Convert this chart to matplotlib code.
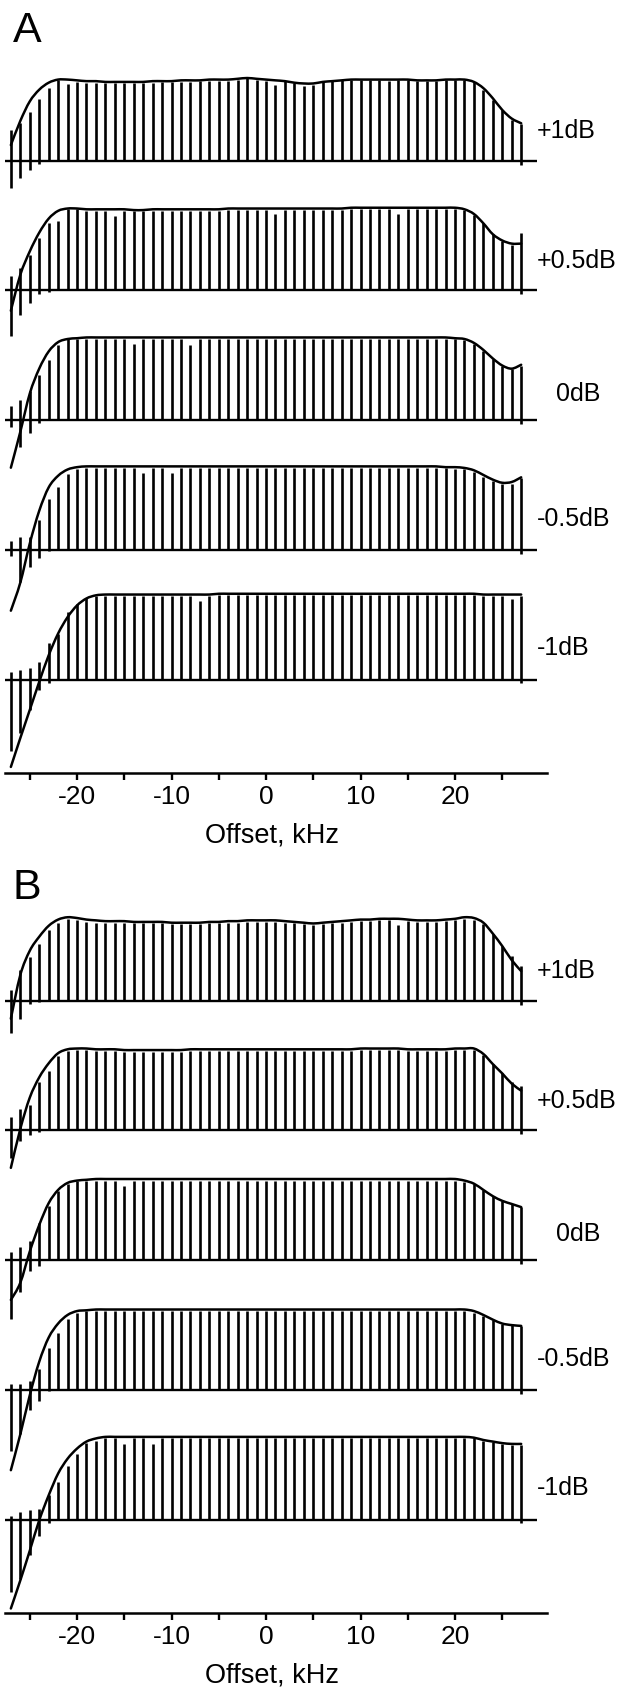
import numpy as np
import matplotlib
matplotlib.use("Agg")
import matplotlib.pyplot as plt
from matplotlib.path import Path
from matplotlib.patches import PathPatch

plt.rcParams['font.family'] = ['Liberation Sans', 'DejaVu Sans']
plt.rcParams['axes.unicode_minus'] = False

# ---------------- data ----------------
offsets_khz = list(range(-27, 28))          # stick positions, kHz
trace_labels = ['+1dB', '+0.5dB', '0dB', '-0.5dB', '-1dB']
tick_values = [-25, -20, -15, -10, -5, 0, 5, 10, 15, 20, 25]
tick_labels = ['', '-20', '', '-10', '', '0', '', '10', '', '20', '']
panel_names = ['A', 'B']
x_label = 'Offset, kHz'

# Panel A envelopes (x = -27..27)
A_env_p1 = [0.20, 0.51, 0.76, 0.91, 1.00, 1.04, 1.04, 1.03, 1.02, 1.02, 1.01,
            1.01, 1.01, 1.01, 1.01, 1.02, 1.02, 1.02, 1.03, 1.03, 1.03, 1.04,
            1.04, 1.04, 1.05, 1.06, 1.05, 1.04, 1.03, 1.02, 1.00, 0.99, 0.99,
            1.01, 1.02, 1.03, 1.04, 1.04, 1.04, 1.04, 1.04, 1.04, 1.04, 1.03,
            1.03, 1.03, 1.04, 1.04, 1.04, 1.01, 0.93, 0.80, 0.65, 0.54, 0.48]
A_env_p05 = [-0.26, 0.20, 0.50, 0.74, 0.92, 1.02, 1.05, 1.05, 1.04, 1.04, 1.04,
             1.04, 1.04, 1.03, 1.03, 1.04, 1.04, 1.04, 1.04, 1.04, 1.04, 1.04,
             1.04, 1.05, 1.05, 1.05, 1.05, 1.05, 1.05, 1.05, 1.05, 1.05, 1.05,
             1.05, 1.05, 1.05, 1.06, 1.06, 1.06, 1.06, 1.06, 1.06, 1.06, 1.06,
             1.06, 1.06, 1.06, 1.06, 1.04, 0.98, 0.86, 0.72, 0.64, 0.60, 0.60]
A_env_0 = [-0.61, -0.15, 0.34, 0.66, 0.88, 1.00, 1.04, 1.05, 1.06, 1.06, 1.06,
           1.06, 1.06, 1.06, 1.06, 1.06, 1.06, 1.06, 1.06, 1.06, 1.06, 1.06,
           1.06, 1.06, 1.06, 1.06, 1.06, 1.06, 1.06, 1.06, 1.06, 1.06, 1.06,
           1.06, 1.06, 1.06, 1.06, 1.06, 1.06, 1.06, 1.06, 1.06, 1.06, 1.06,
           1.06, 1.06, 1.06, 1.05, 1.04, 0.99, 0.90, 0.79, 0.70, 0.66, 0.71]
A_env_m05 = [-0.78, -0.42, 0.08, 0.50, 0.80, 0.95, 1.03, 1.06, 1.07, 1.07, 1.07,
             1.07, 1.07, 1.07, 1.07, 1.07, 1.07, 1.07, 1.07, 1.07, 1.07, 1.07,
             1.07, 1.07, 1.07, 1.07, 1.07, 1.07, 1.07, 1.07, 1.07, 1.07, 1.07,
             1.07, 1.07, 1.07, 1.07, 1.07, 1.07, 1.07, 1.07, 1.07, 1.07, 1.07,
             1.07, 1.07, 1.06, 1.06, 1.05, 1.02, 0.96, 0.90, 0.86, 0.87, 0.93]
A_env_m1 = [-1.12, -0.75, -0.39, -0.03, 0.31, 0.59, 0.80, 0.95, 1.04, 1.08, 1.09,
            1.09, 1.09, 1.09, 1.09, 1.09, 1.09, 1.09, 1.09, 1.09, 1.09, 1.09,
            1.10, 1.10, 1.10, 1.10, 1.10, 1.10, 1.10, 1.10, 1.10, 1.10, 1.10,
            1.10, 1.10, 1.10, 1.10, 1.10, 1.10, 1.10, 1.10, 1.10, 1.10, 1.10,
            1.10, 1.10, 1.10, 1.10, 1.10, 1.10, 1.09, 1.09, 1.09, 1.09, 1.09]

# Panel A stick tops
A_stk_p1 = [0.39, 0.48, 0.63, 0.79, 0.93, 1.03, 0.98, 1.01, 1.00, 1.00, 1.00,
            1.00, 1.00, 1.00, 1.00, 1.00, 1.01, 1.01, 1.01, 1.01, 1.02, 1.02,
            1.02, 1.02, 1.03, 1.06, 1.04, 1.02, 0.97, 1.02, 1.00, 0.96, 0.97,
            1.01, 1.02, 1.03, 1.04, 1.04, 1.04, 1.04, 1.02, 1.04, 1.04, 1.02,
            1.02, 1.02, 1.03, 1.04, 1.04, 1.01, 0.91, 0.78, 0.65, 0.52, 0.47]
A_stk_p05 = [0.19, 0.29, 0.45, 0.67, 0.86, 0.89, 1.04, 1.04, 1.02, 1.02, 1.02,
             0.96, 1.02, 1.02, 1.02, 1.02, 1.02, 1.02, 1.02, 1.02, 1.02, 1.02,
             1.02, 1.03, 1.03, 1.03, 1.03, 1.03, 0.98, 1.03, 1.03, 1.03, 1.03,
             1.03, 1.03, 1.03, 1.04, 1.04, 1.04, 1.04, 1.04, 0.98, 1.04, 1.04,
             1.04, 1.04, 1.04, 1.04, 1.03, 0.97, 0.86, 0.72, 0.63, 0.58, 0.73]
A_stk_0 = [0.18, 0.26, 0.37, 0.58, 0.77, 0.96, 1.04, 1.04, 1.04, 1.04, 1.04,
           1.04, 1.04, 0.97, 1.04, 1.04, 1.04, 1.04, 1.04, 0.96, 1.04, 1.04,
           1.04, 1.04, 1.04, 1.04, 1.04, 1.04, 1.04, 1.04, 1.04, 1.04, 1.04,
           1.04, 1.04, 1.04, 1.04, 1.04, 1.04, 1.04, 1.04, 1.04, 1.04, 1.04,
           1.04, 1.04, 1.04, 1.04, 1.03, 0.98, 0.88, 0.78, 0.69, 0.65, 0.70]
A_stk_m05 = [0.11, 0.16, 0.17, 0.38, 0.65, 0.80, 0.97, 1.04, 1.05, 1.05, 1.05,
             1.05, 1.05, 1.05, 0.99, 1.05, 1.05, 0.99, 1.05, 1.05, 1.05, 1.05,
             1.05, 1.05, 1.05, 1.05, 1.05, 1.05, 1.05, 1.05, 1.05, 1.05, 1.05,
             1.05, 1.05, 1.05, 1.05, 1.05, 1.05, 1.05, 1.05, 1.05, 1.05, 1.05,
             1.05, 1.05, 1.05, 1.04, 1.04, 1.00, 0.94, 0.88, 0.85, 0.84, 0.92]
A_stk_m1 = [0.10, 0.12, 0.15, 0.23, 0.47, 0.59, 0.86, 0.97, 1.05, 1.07, 1.07,
            1.07, 1.07, 1.07, 1.07, 1.07, 1.07, 1.07, 1.07, 1.07, 1.01, 1.07,
            1.08, 1.08, 1.08, 1.08, 1.08, 1.08, 1.08, 1.08, 1.08, 1.08, 1.08,
            1.08, 1.08, 1.08, 1.08, 1.08, 1.08, 1.08, 1.08, 1.08, 1.08, 1.08,
            1.08, 1.08, 1.08, 1.08, 1.08, 1.08, 1.07, 1.07, 1.07, 1.03, 1.07]

# Panel B envelopes
B_env_p1 = [-0.23, 0.33, 0.64, 0.82, 0.96, 1.04, 1.07, 1.06, 1.04, 1.03, 1.02,
            1.02, 1.02, 1.01, 1.01, 1.01, 1.01, 1.00, 1.00, 1.00, 1.00, 1.01,
            1.01, 1.02, 1.02, 1.03, 1.03, 1.03, 1.03, 1.02, 1.01, 1.00, 0.99,
            1.00, 1.01, 1.02, 1.03, 1.04, 1.04, 1.05, 1.05, 1.05, 1.04, 1.03,
            1.03, 1.03, 1.04, 1.05, 1.07, 1.06, 1.00, 0.86, 0.70, 0.52, 0.38]
B_env_p05 = [-0.48, 0.02, 0.42, 0.68, 0.86, 0.99, 1.04, 1.05, 1.05, 1.04, 1.04,
             1.04, 1.03, 1.03, 1.03, 1.03, 1.03, 1.03, 1.03, 1.04, 1.04, 1.04,
             1.04, 1.04, 1.04, 1.04, 1.04, 1.04, 1.04, 1.04, 1.04, 1.04, 1.04,
             1.04, 1.04, 1.04, 1.04, 1.05, 1.05, 1.05, 1.05, 1.05, 1.04, 1.04,
             1.04, 1.04, 1.04, 1.05, 1.05, 1.05, 0.98, 0.85, 0.73, 0.60, 0.51]
B_env_0 = [-0.51, -0.29, 0.11, 0.45, 0.73, 0.90, 0.99, 1.02, 1.03, 1.04, 1.04,
           1.04, 1.04, 1.04, 1.04, 1.04, 1.04, 1.04, 1.04, 1.04, 1.04, 1.04,
           1.04, 1.04, 1.04, 1.04, 1.04, 1.04, 1.04, 1.04, 1.04, 1.04, 1.04,
           1.04, 1.04, 1.04, 1.04, 1.04, 1.04, 1.04, 1.04, 1.04, 1.04, 1.04,
           1.04, 1.04, 1.04, 1.04, 1.02, 0.98, 0.90, 0.82, 0.76, 0.72, 0.68]
B_env_m05 = [-1.03, -0.57, -0.07, 0.36, 0.67, 0.85, 0.96, 1.01, 1.02, 1.03, 1.03,
             1.03, 1.03, 1.03, 1.03, 1.03, 1.03, 1.03, 1.03, 1.03, 1.03, 1.03,
             1.03, 1.03, 1.03, 1.03, 1.03, 1.03, 1.03, 1.03, 1.03, 1.03, 1.03,
             1.03, 1.03, 1.03, 1.03, 1.03, 1.03, 1.03, 1.03, 1.03, 1.03, 1.03,
             1.03, 1.03, 1.03, 1.03, 1.03, 1.01, 0.96, 0.90, 0.85, 0.83, 0.82]
B_env_m1 = [-1.14, -0.78, -0.40, -0.01, 0.31, 0.59, 0.78, 0.91, 1.00, 1.04, 1.06,
            1.06, 1.06, 1.06, 1.06, 1.06, 1.06, 1.06, 1.06, 1.06, 1.06, 1.06,
            1.06, 1.06, 1.06, 1.06, 1.06, 1.06, 1.06, 1.06, 1.06, 1.06, 1.06,
            1.06, 1.06, 1.06, 1.06, 1.06, 1.06, 1.06, 1.06, 1.06, 1.06, 1.06,
            1.06, 1.06, 1.06, 1.06, 1.06, 1.05, 1.02, 1.00, 0.98, 0.97, 0.97]

# Panel B stick tops
B_stk_p1 = [0.14, 0.39, 0.56, 0.73, 0.91, 1.00, 1.05, 1.03, 1.01, 1.00, 0.99,
            0.99, 1.00, 0.99, 0.99, 0.99, 0.99, 0.98, 0.98, 0.98, 0.98, 0.99,
            0.99, 1.00, 1.00, 1.01, 1.01, 1.01, 1.01, 1.00, 0.99, 0.98, 0.97,
            0.98, 0.99, 1.00, 1.01, 1.02, 1.02, 1.03, 1.03, 0.97, 1.02, 1.01,
            1.01, 1.01, 1.02, 1.03, 1.05, 1.04, 0.98, 0.85, 0.70, 0.57, 0.45]
B_stk_p05 = [0.17, 0.27, 0.33, 0.62, 0.76, 0.96, 1.02, 1.03, 1.03, 1.02, 1.02,
             1.02, 1.01, 1.01, 1.01, 1.01, 1.01, 1.01, 1.01, 1.02, 1.02, 1.02,
             1.02, 1.02, 1.02, 1.02, 1.02, 1.02, 1.02, 1.02, 1.02, 1.02, 1.02,
             1.02, 1.02, 1.02, 1.02, 1.03, 1.03, 1.03, 1.03, 1.03, 1.02, 1.02,
             1.02, 1.02, 1.02, 1.03, 1.03, 1.03, 0.97, 0.85, 0.73, 0.62, 0.57]
B_stk_0 = [0.11, 0.17, 0.25, 0.48, 0.70, 0.88, 0.98, 1.01, 1.02, 1.02, 1.02,
           1.02, 0.95, 1.02, 1.02, 1.02, 1.02, 1.02, 1.02, 1.02, 1.02, 1.02,
           1.02, 1.02, 1.02, 1.02, 1.02, 1.02, 1.02, 1.02, 1.02, 1.02, 1.02,
           1.02, 1.02, 1.02, 1.02, 1.02, 1.02, 1.02, 1.02, 1.02, 1.02, 1.02,
           1.02, 1.02, 1.02, 1.02, 1.00, 0.97, 0.90, 0.82, 0.76, 0.72, 0.68]
B_stk_m05 = [0.08, 0.08, 0.11, 0.27, 0.54, 0.73, 0.91, 0.99, 1.01, 1.01, 1.01,
             1.01, 1.01, 1.01, 1.01, 1.01, 1.01, 1.01, 1.01, 1.01, 1.01, 1.01,
             1.01, 1.01, 1.01, 1.01, 1.01, 1.01, 1.01, 1.01, 1.01, 1.01, 1.01,
             1.01, 1.01, 1.01, 1.01, 1.01, 1.01, 1.01, 1.01, 1.01, 1.01, 1.01,
             1.01, 1.01, 1.01, 1.01, 1.01, 0.99, 0.95, 0.89, 0.85, 0.83, 0.82]
B_stk_m1 = [0.05, 0.10, 0.12, 0.14, 0.31, 0.48, 0.69, 0.84, 0.98, 1.01, 1.04,
            1.04, 0.97, 1.04, 1.04, 0.97, 1.04, 1.04, 1.04, 1.04, 1.04, 1.04,
            1.04, 1.04, 1.04, 1.04, 1.04, 1.04, 1.04, 1.04, 1.04, 1.04, 1.04,
            1.04, 1.04, 1.04, 1.04, 1.04, 1.04, 1.04, 1.04, 1.04, 1.04, 1.04,
            1.04, 1.04, 1.04, 1.04, 1.04, 1.04, 1.01, 0.99, 0.97, 0.96, 0.96]

# Negative stubs of the first five sticks (x = -27..-23) and of the last stick (x = 27)
A_neg_left = [[-0.35, -0.22, -0.12, -0.04, -0.01],
              [-0.59, -0.32, -0.16, -0.05, -0.02],
              [-0.09, -0.34, -0.17, -0.04, 0.00],
              [-0.08, -0.41, -0.22, -0.11, -0.02],
              [-0.91, -0.69, -0.39, -0.14, -0.05]]
B_neg_left = [[-0.41, -0.23, -0.04, -0.02, 0.00],
              [-0.35, -0.14, -0.06, -0.02, 0.00],
              [-0.75, -0.41, -0.14, -0.07, 0.00],
              [-0.78, -0.57, -0.26, -0.14, -0.02],
              [-0.93, -0.76, -0.46, -0.21, -0.05]]
A_neg_end = [-0.05, -0.05, -0.05, -0.05, -0.05]
B_neg_end = [-0.05, -0.05, -0.05, -0.05, -0.05]

# ---------------- figure ----------------
W, H = 627, 1687
fig = plt.figure(figsize=(W / 100, H / 100), dpi=100)


def px_rect(left, right, top, bottom):
    return [left / W, 1 - bottom / H, (right - left) / W, (bottom - top) / H]


def smooth_path(xs, ys):
    """Curve through the given points (Catmull-Rom as cubic Bezier)."""
    pts = np.column_stack([xs, ys])
    n = len(pts)
    verts = [pts[0]]
    codes = [Path.MOVETO]
    for i in range(n - 1):
        p0 = pts[i - 1] if i > 0 else pts[i]
        p1 = pts[i]
        p2 = pts[i + 1]
        p3 = pts[i + 2] if i + 2 < n else pts[i + 1]
        c1 = p1 + (p2 - p0) / 6.0
        c2 = p2 - (p3 - p1) / 6.0
        verts += [c1, c2, p2]
        codes += [Path.CURVE4] * 3
    return Path(verts, codes)


STEP = 1.663          # vertical spacing between stacked traces
YLIM = (-7.846, 1.291)
XLIM = (-27.62, 29.70)
LABEL_DY = [0.385, 0.375, 0.34, 0.39, 0.41]
LABEL_X = [28.7, 28.7, 30.7, 28.7, 28.7]

panels = [
    dict(name='A', top=60.0, bottom=772.7, letter_y=42,
         env=[A_env_p1, A_env_p05, A_env_0, A_env_m05, A_env_m1],
         stk=[A_stk_p1, A_stk_p05, A_stk_0, A_stk_m05, A_stk_m1],
         neg=A_neg_left, neg_end=A_neg_end),
    dict(name='B', top=900.0, bottom=1612.7, letter_y=899,
         env=[B_env_p1, B_env_p05, B_env_0, B_env_m05, B_env_m1],
         stk=[B_stk_p1, B_stk_p05, B_stk_0, B_stk_m05, B_stk_m1],
         neg=B_neg_left, neg_end=B_neg_end),
]

x = np.array(offsets_khz, dtype=float)

for pan in panels:
    ax = fig.add_axes(px_rect(5, 546.7, pan['top'], pan['bottom']))
    ax.set_xlim(*XLIM)
    ax.set_ylim(*YLIM)
    for k in range(5):
        base = -k * STEP
        env = np.array(pan['env'][k])
        hi = np.array(pan['stk'][k])
        lo = np.zeros_like(hi)
        lo[:5] = pan['neg'][k]
        lo[-1] = pan['neg_end'][k]
        ax.hlines(base, -27.6, 28.7, color='black', lw=1.7)
        ax.vlines(x, base + lo, base + hi, color='black', lw=1.9)
        ax.add_patch(PathPatch(smooth_path(x, base + env), fill=False,
                               edgecolor='black', lw=1.8, capstyle='round'))
        ax.text(LABEL_X[k], base + LABEL_DY[k], trace_labels[k],
                fontsize=18, ha='left', va='center')
    for s in ['left', 'right', 'top']:
        ax.spines[s].set_visible(False)
    ax.spines['bottom'].set_linewidth(1.8)
    ax.set_yticks([])
    ax.set_xticks(tick_values)
    ax.set_xticklabels(tick_labels)
    ax.tick_params(axis='x', direction='out', length=5.2, width=1.7,
                   labelsize=19, pad=3.5)
    ax.set_xlabel(x_label, fontsize=19.5, va='center')
    ax.xaxis.set_label_coords(0.493, -63.0 / (pan['bottom'] - pan['top']))
    fig.text(13 / W, 1 - pan['letter_y'] / H, pan['name'], fontsize=31,
             ha='left', va='baseline')

fig.savefig('out.png', dpi=100)
